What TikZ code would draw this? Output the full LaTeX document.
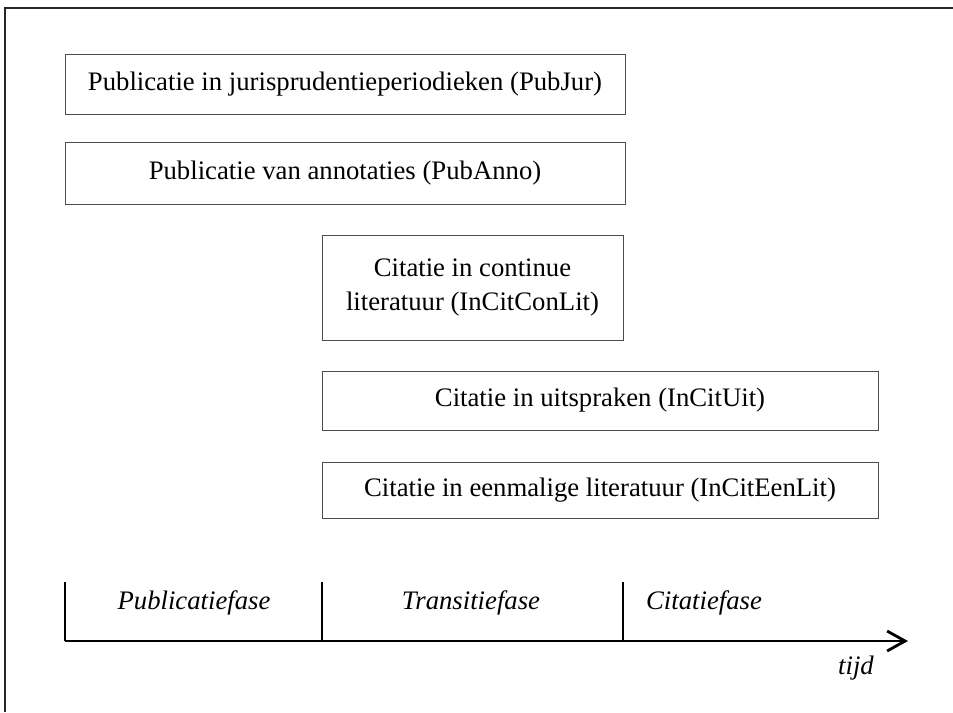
\documentclass[tikz,border=0pt]{standalone}
\usepackage{fontspec}
\setmainfont{Liberation Serif}
\usetikzlibrary{positioning}
\usetikzlibrary{arrows.meta}
\tikzset{
    % Open arrow head for the time axis
    >={Straight Barb[length=4.5mm, width=5mm]},
%
    % Thin grey box round each kind of citation
    phase box/.style={
        draw=black!70, line width=0.4pt, align=center,
        inner sep=0, font=\fontsize{19}{24}\selectfont},
%
    % Heavy black lines of the time axis
    axis line/.style={line width=2pt},
%
    % Italic labels on the time axis
    phase label/.style={font=\fontsize{19}{24}\selectfont\itshape}}

\begin{document}
\begin{tikzpicture}[x=0.25mm, y=-0.25mm]

% Size of the page
\useasboundingbox (0,0) rectangle (953,712);

\draw [line width=1.2pt, black!85] (5,712) -- (5,8) -- (953,8);

% The five kinds of publication and citation

\node [phase box, minimum width=140mm, minimum height=15mm]
    (pubjur) at (345,84)
    {Publicatie in jurisprudentieperiodieken (PubJur)};

\node [phase box, minimum width=140mm, minimum height=15.5mm]
    (pubanno) at (345,173)
    {Publicatie van annotaties (PubAnno)};

\node [phase box, minimum width=75.25mm, minimum height=26.25mm]
    (incitconlit) at (472.5,287.5)
    {Citatie in continue\\literatuur (InCitConLit)};

\node [phase box, minimum width=139mm, minimum height=14.75mm]
    (incituit) at (600,400.5)
    {Citatie in uitspraken (InCitUit)};

\node [phase box, minimum width=139mm, minimum height=14mm]
    (inciteenlit) at (600,490)
    {Citatie in eenmalige literatuur (InCitEenLit)};

% Time axis

\coordinate (t0) at (65,641);
\coordinate (t1) at (322,641);
\coordinate (t2) at (623,641);
\coordinate (tend) at (908,641);

\draw [axis line, ->] (t0) -- (tend);
\draw [axis line]
    (t0) -- ++(0,-59)
    (t1) -- ++(0,-59)
    (t2) -- ++(0,-59);

\node [phase label] (publicatie) at (194,603) {Publicatiefase};
\node [phase label] (transitie) at (471,603) {Transitiefase};
\node [phase label] (citatie) at (704,603) {Citatiefase};
\node [phase label] (tijd) at (856,668) {tijd};

\end{tikzpicture}
\end{document}
